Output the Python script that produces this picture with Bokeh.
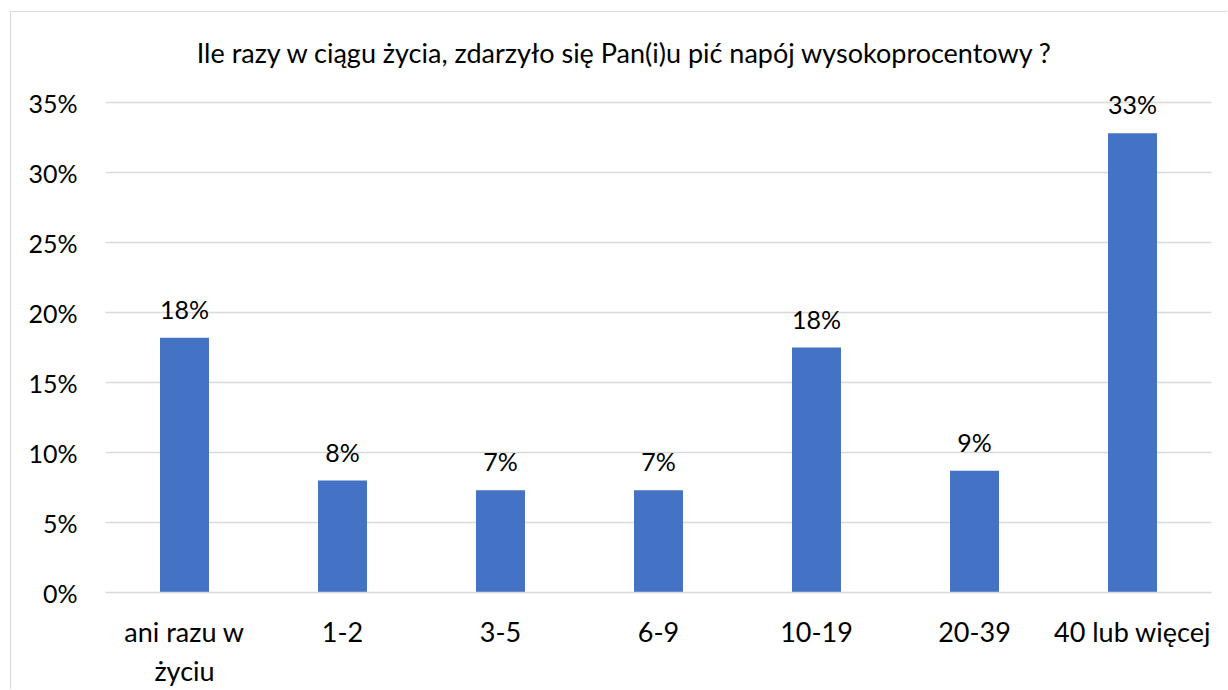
from bokeh.plotting import figure
from bokeh.models import ColumnDataSource, NumeralTickFormatter, LabelSet, FixedTicker, Label
from bokeh.embed import file_html
from bokeh.resources import INLINE
from bokeh.core.properties import value

categories = ["ani razu w\nżyciu", "1-2", "3-5", "6-9", "10-19", "20-39", "40 lub więcej"]
values = [0.182, 0.080, 0.073, 0.073, 0.175, 0.087, 0.328]
title = "Ile razy w ciągu życia, zdarzyło się Pan(i)u pić napój wysokoprocentowy ?"
y_ticks = [0, 0.05, 0.10, 0.15, 0.20, 0.25, 0.30, 0.35]

labels = [f"{int(v * 100 + 0.5)}%" for v in values]
src = ColumnDataSource(dict(cat=categories, val=values, lab=labels))

FONT = "Lato"

p = figure(x_range=categories, y_range=(0, 0.40), width=1217, height=678,
           output_backend="svg", toolbar_location=None,
           min_border_left=94, min_border_right=17, min_border_top=20, min_border_bottom=98)
p.styles = {"margin-left": "10px", "margin-top": "11px",
            "border-left": "1px solid #D9D9D9", "border-top": "1px solid #D9D9D9"}

p.vbar(x="cat", top="val", width=0.31, source=src, color="#4472C4", line_color=None)

p.add_layout(LabelSet(x="cat", y="val", text="lab", source=src, text_align="center",
                      text_baseline="alphabetic", y_offset=19,
                      text_font=value(FONT), text_font_size="25px", text_color="#000000"))

p.add_layout(Label(x=3.29, y=0.386, text=title, text_align="center", text_baseline="middle",
                   text_font=FONT, text_font_size="27px", text_color="#000000"))

p.outline_line_color = None
p.xgrid.grid_line_color = None
p.ygrid.grid_line_color = "#D9D9D9"
p.ygrid.grid_line_width = 1.5

p.yaxis.ticker = FixedTicker(ticks=y_ticks)
p.ygrid.ticker = FixedTicker(ticks=y_ticks)
p.yaxis.formatter = NumeralTickFormatter(format="0%")
p.yaxis.axis_line_color = None
p.yaxis.major_tick_line_color = None
p.yaxis.minor_tick_line_color = None
p.yaxis.major_label_standoff = 22
p.yaxis.major_label_text_font = FONT
p.yaxis.major_label_text_font_size = "25px"
p.yaxis.major_label_text_color = "#000000"

p.xaxis.axis_line_color = "#D9D9D9"
p.xaxis.axis_line_width = 1.5
p.xaxis.major_tick_line_color = None
p.xaxis.minor_tick_line_color = None
p.xaxis.major_label_standoff = 16
p.xaxis.major_label_text_font = FONT
p.xaxis.major_label_text_font_size = "27px"
p.xaxis.major_label_text_color = "#000000"
p.x_range.range_padding = 0

open("out.html", "w").write(file_html(p, INLINE))
